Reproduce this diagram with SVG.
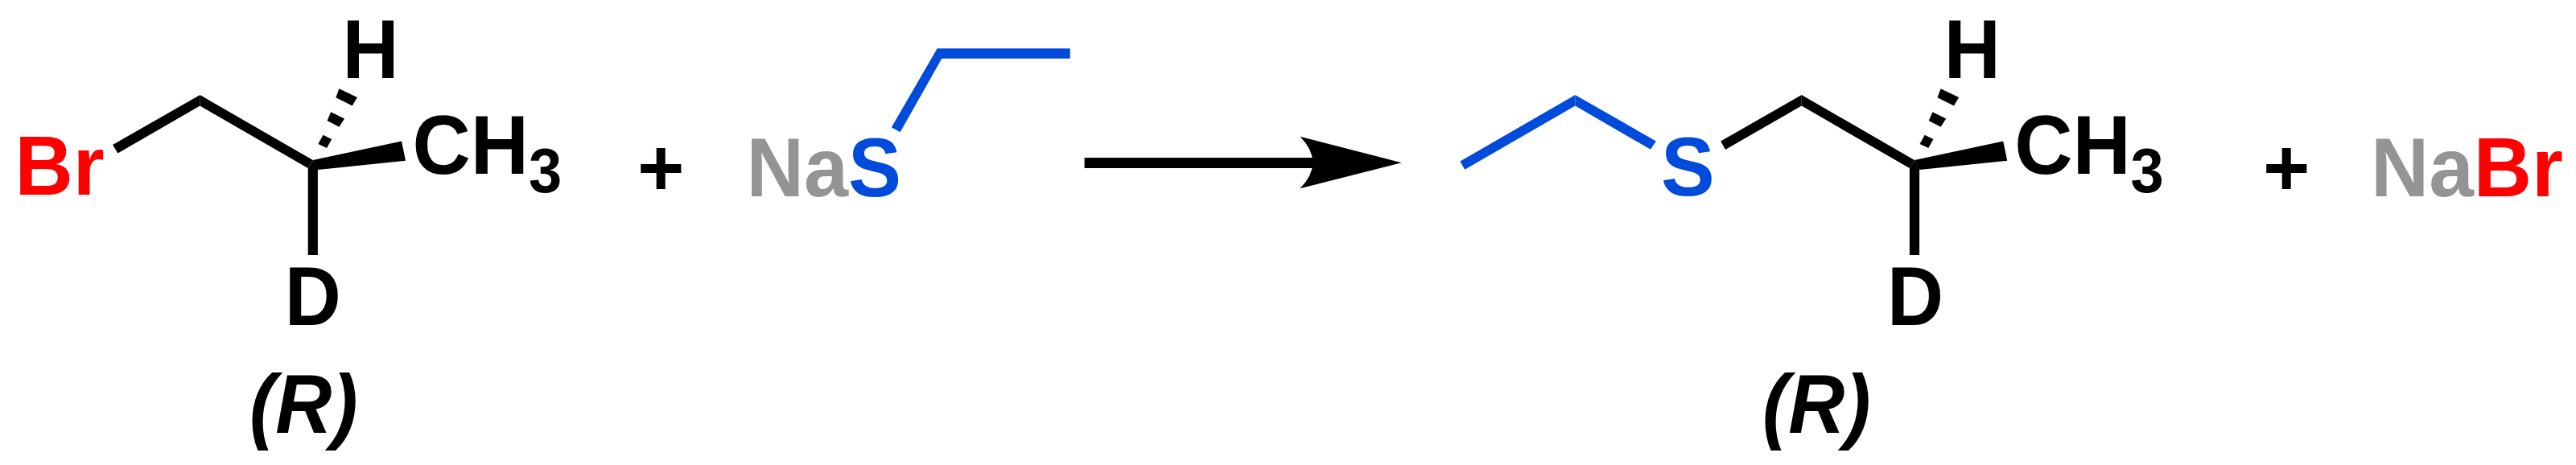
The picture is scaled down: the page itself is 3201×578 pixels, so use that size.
<svg xmlns="http://www.w3.org/2000/svg" width="3201" height="578" viewBox="0 0 3201 578">
<style>
text{font-family:"Liberation Sans",Arial,sans-serif;font-weight:700;font-size:100px;fill:#000}
.sub{font-size:74px}
.it{font-style:italic}
.red{fill:#f00}
.gr{fill:#949494}
.bl{fill:#004adc}
.k{fill:#000}
.b{fill:#004adc}
</style>
<rect width="3201" height="578" fill="#fff"/>
<g id="connectors">
<g id="bonds-substrate" class="k">
<polygon points="140,180 146.4,190.6 248.5,131.6 248.5,118"/>
<polygon points="248.5,118 388.8,199 382.6,209 248.5,131.6"/>
<polygon points="382.7,209 388.8,199 394.9,209 394.9,317 382.7,317"/>
<polygon points="388.8,199 395.4,211 504,199.8 499,175.5"/>
<polygon points="401.5,167.7 412.2,172.9 406.1,183.9 395.4,179.1"/>
<polygon points="411.2,139.3 428,147.4 421.4,157.8 406.6,150"/>
<polygon points="421.4,110.2 443.9,120.9 437.8,131.6 417.3,121.3"/>
</g>
<g id="bond-thiolate" class="b">
<polygon points="1164.6,60.3 1329.7,60.3 1329.7,72.7 1170.3,72.7 1118.6,164.3 1107.8,158.3"/>
</g>
<g id="arrow" class="k">
<rect x="1347.6" y="196" width="284" height="13"/>
<path d="M1615.5 169.7 L1741.7 202.3 L1615.5 234.3 Q1647 202 1615.5 169.7Z"/>
</g>
<g id="bonds-product-ethyl" class="b">
<polygon points="1814.4,200.5 1820.2,210.8 1957.4,131.6 1957.4,118"/>
<polygon points="1957.4,118 2057.8,175.5 2051,185.8 1957.4,131.6"/>
</g>
<g id="bonds-product" class="k">
<polygon points="2138.2,175.5 2144,186.1 2238.7,131.6 2238.7,118"/>
<polygon points="2238.7,118 2379,199 2372.8,209 2238.7,131.6"/>
<polygon points="2372.9,209 2379,199 2385.1,209 2385.1,317 2372.9,317"/>
<polygon points="2379,199 2385.6,211 2494.2,199.8 2489.2,175.5"/>
<polygon points="2391.7,167.7 2402.4,172.9 2396.3,183.9 2385.6,179.1"/>
<polygon points="2401.4,139.3 2418.2,147.4 2411.6,157.8 2396.8,150"/>
<polygon points="2411.6,110.2 2434.1,120.9 2428,131.6 2407.5,121.3"/>
</g>
</g>
<g id="substrate-Br"><text class="red" transform="translate(18.5 242) scale(1 1.04)">Br</text></g>
<g id="substrate-H"><text transform="translate(425.5 97) scale(.97 1.04)">H</text></g>
<g id="substrate-CH3"><text transform="translate(512.6 216.4) scale(1 1.04)">CH<tspan class="sub" dy="22">3</tspan></text></g>
<g id="substrate-D"><text transform="translate(353.7 404) scale(.97 1.04)">D</text></g>
<g id="substrate-label"><text class="it" transform="translate(310 538) scale(.97 1.04)">(R)</text></g>
<g id="plus-1"><text x="792" y="243">+</text></g>
<g id="NaS"><text class="gr" transform="translate(927.5 244) scale(.99 1.04)">Na<tspan class="bl">S</tspan></text></g>
<g id="product-S"><text class="bl" transform="translate(2064 242.7) scale(1 1.04)">S</text></g>
<g id="product-H"><text transform="translate(2415.7 97) scale(.97 1.04)">H</text></g>
<g id="product-CH3"><text transform="translate(2503.2 216.4) scale(1 1.04)">CH<tspan class="sub" dy="22">3</tspan></text></g>
<g id="product-D"><text transform="translate(2345 404) scale(.97 1.04)">D</text></g>
<g id="product-label"><text class="it" transform="translate(2190 538) scale(.97 1.04)">(R)</text></g>
<g id="plus-2"><text x="2812" y="243">+</text></g>
<g id="NaBr"><text class="gr" transform="translate(2946 244) scale(1 1.04)">Na<tspan class="red">Br</tspan></text></g>
</svg>
